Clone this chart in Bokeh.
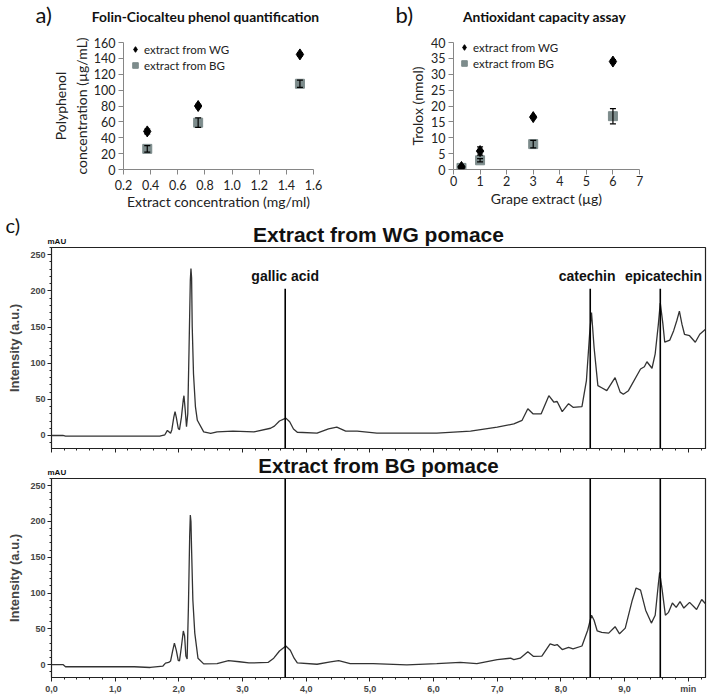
from bokeh.plotting import figure
from bokeh.models import (FixedTicker, Legend, Whisker, TeeHead, ColumnDataSource,
                          Span, NumeralTickFormatter)
from bokeh.layouts import column, row
from bokeh.embed import file_html
from bokeh.resources import INLINE
from bokeh.core.properties import value

# ---------------- data ----------------
# a) Folin-Ciocalteu
fc_conc = [0.375, 0.75, 1.5]
fc_wg = [48, 80, 145]
fc_wg_err = [3, 2, 2]
fc_bg = [26, 59, 108]
fc_bg_err = [4, 6, 4.5]

# b) Antioxidant capacity
ab_ug = [0.3, 1, 3, 6]
ab_wg = [0.8, 5.8, 16.5, 34.0]
ab_wg_err = [0.3, 1.3, 0.4, 0.6]
ab_bg = [0.5, 2.9, 8.0, 16.8]
ab_bg_err = [0.3, 0.5, 1.2, 2.4]

# c) chromatograms (min, mAU)
wg_t = [0.00, 0.18, 0.22, 1.40, 1.70, 1.78, 1.82, 1.87, 1.89, 1.92, 1.94, 1.96, 1.99, 2.01,
        2.04, 2.07, 2.08, 2.10, 2.12, 2.14, 2.16, 2.18, 2.19, 2.20, 2.21, 2.23, 2.26, 2.29,
        2.39, 2.50, 2.60, 2.85, 3.18, 3.44, 3.50, 3.58, 3.68, 3.74, 3.80, 3.86, 4.17, 4.35,
        4.48, 4.62, 4.80, 5.11, 6.05, 6.58, 7.00, 7.26, 7.39, 7.48, 7.56, 7.69, 7.81, 7.89,
        7.94, 8.02, 8.12, 8.19, 8.33, 8.40, 8.45, 8.48, 8.52, 8.58, 8.64, 8.72, 8.85, 8.93,
        8.98, 9.06, 9.25, 9.31, 9.35, 9.43, 9.48, 9.53, 9.56, 9.60, 9.63, 9.71, 9.77, 9.82,
        9.86, 9.90, 9.94, 10.02, 10.11, 10.18, 10.27]
wg_i = [0, 0, -1, -1, -1, 1, 7, 3, 8, 25, 33, 25, 10, 8,
        25, 50, 55, 35, 12, 30, 120, 215, 231, 218, 150, 85, 40, 21,
        5, 3, 5, 6, 5, 10, 13, 20, 24, 19, 9, 4.5, 3.2, 9,
        11.5, 6, 6, 3.2, 3.2, 6, 11.5, 16, 21, 37, 30, 30, 55, 46,
        47, 33, 44, 39, 40, 76, 140, 170, 122, 69, 66, 62, 80, 60,
        57, 62, 92, 95, 102, 93, 113, 154, 183, 155, 129, 132, 145, 159,
        172, 154, 140, 138, 129, 140, 147]

bg_t = [0.00, 0.18, 0.22, 1.30, 1.55, 1.75, 1.79, 1.84, 1.87, 1.90, 1.93, 1.96, 1.99, 2.01,
        2.04, 2.07, 2.09, 2.11, 2.13, 2.15, 2.17, 2.18, 2.19, 2.20, 2.22, 2.25, 2.30, 2.39,
        2.60, 2.78, 2.95, 3.10, 3.40, 3.49, 3.58, 3.68, 3.75, 3.81, 3.86, 4.17, 4.38, 4.51,
        4.69, 5.05, 5.58, 6.05, 6.42, 6.68, 7.00, 7.21, 7.26, 7.36, 7.48, 7.57, 7.70, 7.83,
        7.90, 7.94, 8.02, 8.12, 8.19, 8.33, 8.42, 8.48, 8.52, 8.57, 8.64, 8.75, 8.85, 8.92,
        9.01, 9.12, 9.18, 9.25, 9.33, 9.42, 9.48, 9.53, 9.55, 9.59, 9.64, 9.69, 9.75, 9.81,
        9.87, 9.93, 10.02, 10.13, 10.21, 10.27]
bg_i = [0, 0, -3, -3, -4, -2, 2, 3, 5, 18, 30, 20, 6, 5,
        25, 47, 40, 12, 8, 80, 180, 209, 200, 160, 90, 44, 9, 1,
        1.4, 5.5, 4, 2.3, 3, 9, 19, 26, 20, 9, 2.3, 0.5, 3.7, 5.5,
        1.4, 1.4, -0.5, 1.4, 3.2, 1.4, 7, 9, 7, 9, 18, 11.5, 12, 29,
        27, 28, 21, 24, 22, 26, 48, 69, 62, 47, 45, 44, 53, 43,
        51, 90, 107, 104, 76, 58, 69, 113, 129, 104, 69, 73, 86, 80,
        88, 79, 87, 77, 91, 85]

peak_names = ["gallic acid", "catechin", "epicatechin"]
peak_times = [3.67, 8.46, 9.56]
peak_label_x = [3.67, 8.41, 9.61]

x_ticks_min = [0, 1, 2, 3, 4, 5, 6, 7, 8, 9, 10]
x_tick_labels = ["0,0", "1,0", "2,0", "3,0", "4,0", "5,0", "6,0", "7,0", "8,0", "9,0", "min"]
y_ticks_mau = [0, 50, 100, 150, 200, 250]

panel_letters = ["a)", "b)", "c)"]
panel_titles = ["Folin-Ciocalteu phenol quantification", "Antioxidant capacity assay"]
chrom_titles = ["Extract from WG pomace", "Extract from BG pomace"]

BG_COL = "#7d8c8c"
FONT_XL = "Lato"
FONT_CH = "Liberation Sans"
W = 712


def header(height):
    """A bare strip whose scales run in pixels, used for headings between panels."""
    h = figure(width=W, height=height, x_range=(0, W), y_range=(0, height),
               output_backend="svg", toolbar_location=None, min_border=0, title=None,
               x_axis_location=None, y_axis_location=None)
    h.grid.visible = False
    h.outline_line_color = None
    return h


def put(h, x, y, text, size, bold=False, align="left", font=FONT_XL):
    h.text(x=[x], y=[y], text=[text], text_font=value(font), text_font_size=size,
           text_font_style="bold" if bold else "normal", text_align=align,
           text_baseline="middle", text_color="#111111")


def excel_axes(p):
    p.outline_line_color = None
    p.grid.visible = False
    for ax in (p.xaxis[0], p.yaxis[0]):
        ax.axis_line_color = "#868686"
        ax.major_tick_line_color = "#868686"
        ax.major_tick_out = 5
        ax.major_tick_in = 0
        ax.minor_tick_line_color = None
        ax.major_label_text_font = FONT_XL
        ax.major_label_text_font_size = "12.5px"
        ax.major_label_text_color = "#222222"
        ax.major_label_standoff = 3
        ax.axis_label_text_font = FONT_XL
        ax.axis_label_text_font_style = "normal"
        ax.axis_label_text_font_size = "14px"
        ax.axis_label_text_color = "#222222"


def add_errors(p, x, y, err, head):
    src = ColumnDataSource(dict(x=x, lo=[a - b for a, b in zip(y, err)],
                                hi=[a + b for a, b in zip(y, err)]))
    w = Whisker(base="x", lower="lo", upper="hi", source=src, line_color="black",
                line_width=1.2, level="overlay",
                upper_head=TeeHead(size=head, line_color="black", line_width=1.2),
                lower_head=TeeHead(size=head, line_color="black", line_width=1.2))
    p.add_layout(w)


def legend_for(p, r_wg, r_bg, loc):
    leg = Legend(items=[("extract from WG", [r_wg]), ("extract from BG", [r_bg])],
                 location=loc, background_fill_alpha=0, border_line_color=None,
                 padding=0, spacing=2, margin=0, glyph_height=14, glyph_width=14,
                 label_standoff=2, label_height=14, label_text_font=FONT_XL,
                 label_text_font_size="11.5px", label_text_color="#222222")
    p.add_layout(leg)


# ---------------- headings a) b) ----------------
hab = header(34)
put(hab, 35, 20, panel_letters[0], "22px")
put(hab, 205, 18, panel_titles[0], "13.8px", bold=True, align="center")
put(hab, 395, 20, panel_letters[1], "22px")
put(hab, 544, 18, panel_titles[1], "13.8px", bold=True, align="center")

# ---------------- panel a ----------------
fa = figure(width=360, height=178, x_range=(0.2, 1.6), y_range=(0, 160),
            output_backend="svg", toolbar_location=None,
            min_border_left=123, min_border_right=47, min_border_top=8, min_border_bottom=43)
excel_axes(fa)
fa.xaxis.ticker = FixedTicker(ticks=[0.2, 0.4, 0.6, 0.8, 1.0, 1.2, 1.4, 1.6])
fa.xaxis.formatter = NumeralTickFormatter(format="0.0")
fa.yaxis.ticker = FixedTicker(ticks=[0, 20, 40, 60, 80, 100, 120, 140, 160])
fa.xaxis.axis_label = "Extract concentration (mg/ml)"
fa.yaxis.axis_label = "Polyphenol\nconcentration (µg/mL)"
fa.xaxis.major_label_standoff = 5
fa.xaxis.axis_label_standoff = 0
fa.yaxis.axis_label_standoff = 1
ra_bg = fa.scatter(fc_conc, fc_bg, marker="square", size=9, fill_color=BG_COL, line_color=BG_COL)
ra_wg = fa.scatter(fc_conc, fc_wg, marker="diamond", size=11, fill_color="black", line_color="black")
add_errors(fa, fc_conc, fc_bg, fc_bg_err, 6)
add_errors(fa, fc_conc, fc_wg, fc_wg_err, 6)
legend_for(fa, ra_wg, ra_bg, (5, 97))

# ---------------- panel b ----------------
fb = figure(width=352, height=178, x_range=(0, 7), y_range=(0, 40),
            output_backend="svg", toolbar_location=None,
            min_border_left=93, min_border_right=73, min_border_top=4, min_border_bottom=43)
excel_axes(fb)
fb.xaxis.ticker = FixedTicker(ticks=[0, 1, 2, 3, 4, 5, 6, 7])
fb.yaxis.ticker = FixedTicker(ticks=[0, 5, 10, 15, 20, 25, 30, 35, 40])
fb.xaxis.axis_label = "Grape extract (µg)"
fb.yaxis.axis_label = "Trolox (nmol)"
fb.xaxis.major_label_standoff = 1
fb.xaxis.axis_label_standoff = 1
fb.yaxis.axis_label_standoff = 2
rb_bg = fb.scatter(ab_ug, ab_bg, marker="square", size=9, fill_color=BG_COL, line_color=BG_COL)
rb_wg = fb.scatter(ab_ug, ab_wg, marker="diamond", size=11, fill_color="black", line_color="black")
add_errors(fb, ab_ug, ab_bg, ab_bg_err, 6)
add_errors(fb, ab_ug, ab_wg, ab_wg_err, 6)
legend_for(fb, rb_wg, rb_bg, (4, 99))


# ---------------- panel c ----------------
def chrom(height, top, bottom, t, inten, show_xlabels, full_lines):
    p = figure(width=W, height=height, x_range=(0, 10.27), y_range=(-18, 260),
               output_backend="svg", toolbar_location=None,
               min_border_left=51, min_border_right=7, min_border_top=top, min_border_bottom=bottom)
    p.grid.visible = False
    p.outline_line_color = "#222222"
    p.outline_line_width = 1.2
    xa, ya = p.xaxis[0], p.yaxis[0]
    xa.ticker = FixedTicker(ticks=x_ticks_min, minor_ticks=[i / 5 for i in range(0, 52)])
    if show_xlabels:
        xa.major_label_overrides = {k: v for k, v in zip(x_ticks_min, x_tick_labels)}
    else:
        xa.major_label_overrides = {k: "" for k in x_ticks_min}
    ya.ticker = FixedTicker(ticks=y_ticks_mau, minor_ticks=list(range(-10, 261, 10)))
    for ax in (xa, ya):
        ax.axis_line_color = "#222222"
        ax.major_tick_line_color = "#222222"
        ax.minor_tick_line_color = "#222222"
        ax.major_tick_out = 4
        ax.major_tick_in = 0
        ax.minor_tick_out = 2
        ax.minor_tick_in = 0
        ax.major_label_text_font = FONT_CH
        ax.major_label_text_font_style = "bold"
        ax.major_label_text_font_size = "9px"
        ax.major_label_standoff = 2
    ya.axis_label = "Intensity (a.u.)"
    ya.axis_label_text_font = FONT_CH
    ya.axis_label_text_font_style = "bold"
    ya.axis_label_text_font_size = "13px"
    ya.axis_label_standoff = 5
    p.line(t, inten, line_color="#333333", line_width=1.3)
    if full_lines:
        for tt in peak_times:
            p.add_layout(Span(location=tt, dimension="height", line_color="black", line_width=1.6))
    else:
        p.segment(x0=peak_times, y0=[-18] * 3, x1=peak_times, y1=[203] * 3,
                  line_color="black", line_width=1.6)
        p.text(x=peak_label_x, y=[220] * 3, text=peak_names, text_align="center",
               text_baseline="middle", text_font=value(FONT_CH), text_font_style="bold",
               text_font_size="14px", text_color="#111111")
    return p


hc1 = header(34)
put(hc1, 5, 22, panel_letters[2], "20px")
put(hc1, 378, 12, chrom_titles[0], "21px", bold=True, align="center", font=FONT_CH)
put(hc1, 47, 5, "mAU", "8px", bold=True, font=FONT_CH)

fc1 = chrom(207, 1, 5, wg_t, wg_i, False, False)

hc2 = header(24)
put(hc2, 378, 12, chrom_titles[1], "20.5px", bold=True, align="center", font=FONT_CH)
put(hc2, 47, 5, "mAU", "8px", bold=True, font=FONT_CH)

fc2 = chrom(219, 1, 18, bg_t, bg_i, True, True)

# each strip sits in its own row so that the column does not line up their frames
layout = column(row(hab), row(fa, fb, spacing=0), row(hc1), row(fc1), row(hc2), row(fc2),
                spacing=0)
open("out.html", "w").write(file_html(layout, INLINE))
